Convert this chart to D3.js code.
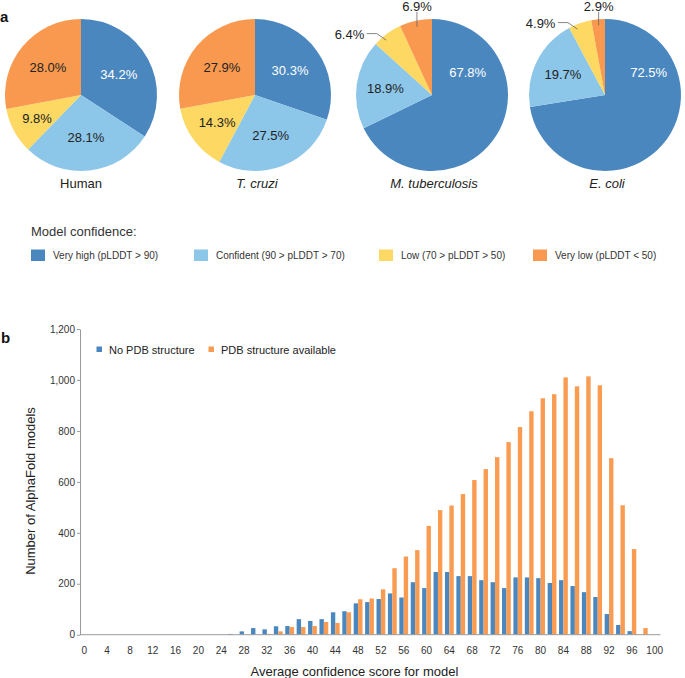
<!DOCTYPE html>
<html>
<head>
<meta charset="utf-8">
<script src="https://cdn.jsdelivr.net/npm/d3@7"></script>
<style>
  html, body { margin: 0; padding: 0; background: #fff; }
  svg { display: block; font-family: "Liberation Sans", Arial, Helvetica, sans-serif; }
</style>
</head>
<body>
<svg id="chart" width="685" height="678"></svg>
<script>
// ---------------- DATA ----------------
const confidenceLevels = ["Very high (pLDDT > 90)", "Confident (90 > pLDDT > 70)", "Low (70 > pLDDT > 50)", "Very low (pLDDT < 50)"];
const organisms = ["Human", "T. cruzi", "M. tuberculosis", "E. coli"];
const organismItalic = [false, true, true, true];
const humanShares = [34.2, 28.1, 9.8, 28.0];
const tcruziShares = [30.3, 27.5, 14.3, 27.9];
const mtbShares = [67.8, 18.9, 6.4, 6.9];
const ecoliShares = [72.5, 19.7, 4.9, 2.9];

const seriesNames = ["No PDB structure", "PDB structure available"];
const scoreBins = [0, 2, 4, 6, 8, 10, 12, 14, 16, 18, 20, 22, 24, 26, 28, 30, 32, 34, 36, 38, 40, 42, 44, 46, 48, 50,
                   52, 54, 56, 58, 60, 62, 64, 66, 68, 70, 72, 74, 76, 78, 80, 82, 84, 86, 88, 90, 92, 94, 96, 98, 100];
const noPdbCounts = [0, 0, 0, 0, 0, 0, 0, 0, 0, 0, 0, 0, 0, 3, 13, 26, 21, 33, 34, 61, 54, 61, 88, 92, 123, 128,
                     140, 162, 146, 206, 183, 246, 246, 230, 230, 214, 206, 183, 225, 225, 222, 203, 214, 191, 167, 148, 81, 38, 14, 0, 0];
const pdbCounts = [0, 0, 0, 0, 0, 0, 0, 0, 0, 0, 0, 0, 0, 0, 0, 0, 3, 13, 30, 30, 34, 50, 46, 88, 139, 142,
                   178, 261, 307, 332, 427, 489, 507, 552, 607, 650, 697, 756, 815, 877, 928, 944, 1010, 975, 1014, 979, 693, 508, 336, 26, 0];
const yTicks = [0, 200, 400, 600, 800, 1000, 1200];
const xTickLabels = [0, 4, 8, 12, 16, 20, 24, 28, 32, 36, 40, 44, 48, 52, 56, 60, 64, 68, 72, 76, 80, 84, 88, 92, 96, 100];

// ---------------- STYLE ----------------
const pieColors = ["#4a87bf", "#8cc6e9", "#fdd862", "#f8994f"];
const barColors = ["#4a87bf", "#f99b50"];
const textColor = "#222";
const axisColor = "#9a9a9a";

const svg = d3.select("#chart");
svg.append("rect").attr("width", 685).attr("height", 678).attr("fill", "#fff");

// ---------------- PANEL a ----------------
svg.append("text").attr("x", 0).attr("y", 22).attr("font-size", 15).attr("font-weight", "bold")
  .attr("fill", "#111").text("a");

const allShares = [humanShares, tcruziShares, mtbShares, ecoliShares];
const pieCenters = [81, 255, 432, 605];
const pieCY = 95, R = 76;
const pie = d3.pie().sort(null).value(d => d);
const arc = d3.arc().innerRadius(0).outerRadius(R);

allShares.forEach((shares, pi) => {
  const g = svg.append("g").attr("transform", `translate(${pieCenters[pi]},${pieCY})`);
  const arcs = pie(shares);
  g.selectAll("path.slice").data(arcs).join("path")
    .attr("class", "slice")
    .attr("d", arc)
    .attr("fill", (d, i) => pieColors[i]);

  arcs.forEach((d, i) => {
    const frac = d.value / 100;
    const mid = (d.startAngle + d.endAngle) / 2;
    const polar = (a, r) => [Math.sin(a) * r, -Math.cos(a) * r];
    const label = d.value.toFixed(1) + "%";
    if (frac < 0.08) {
      // outside label with leader line
      if (i === shares.length - 1) {
        const p = polar(mid, R * 0.92);
        const top = -R - 7;
        g.append("path").attr("d", `M${p[0]},${p[1]}L${p[0]},${top}`)
          .attr("stroke", "#666").attr("stroke-width", 0.8).attr("fill", "none");
        g.append("text").attr("x", p[0]).attr("y", top - 6).attr("text-anchor", "middle")
          .attr("dominant-baseline", "central").attr("font-size", 13).attr("fill", textColor).text(label);
      } else {
        const p = polar(mid - 0.06, R * 0.94);
        const elbow = [p[0] - 9.5, p[1] - 6.5];
        const end = [elbow[0] - 10, elbow[1]];
        g.append("path").attr("d", `M${p[0]},${p[1]}L${elbow[0]},${elbow[1]}L${end[0]},${end[1]}`)
          .attr("stroke", "#666").attr("stroke-width", 0.8).attr("fill", "none");
        g.append("text").attr("x", end[0] - 2.5).attr("y", end[1] + 1).attr("text-anchor", "end")
          .attr("dominant-baseline", "central").attr("font-size", 13).attr("fill", textColor).text(label);
      }
    } else {
      let pos;
      if (frac > 0.5) {
        pos = polar(58 * Math.PI / 180, 42);
        pos[0] += (frac > 0.7 ? 8 : 0);
      } else if (frac < 0.2) {
        pos = polar(mid, frac < 0.12 ? 50 : 47);
      } else {
        pos = polar(mid, 43);
      }
      g.append("text").attr("x", pos[0]).attr("y", pos[1]).attr("text-anchor", "middle")
        .attr("dominant-baseline", "central").attr("font-size", 13)
        .attr("fill", i === 0 ? "#fff" : textColor).text(label);
    }
  });

  svg.append("text").attr("x", pieCenters[pi] + (organismItalic[pi] ? 2 : 0)).attr("y", 183)
    .attr("text-anchor", "middle").attr("dominant-baseline", "central")
    .attr("font-size", 13).attr("font-style", organismItalic[pi] ? "italic" : "normal")
    .attr("fill", textColor).text(organisms[pi]);
});

// legend
svg.append("text").attr("x", 31).attr("y", 231).attr("dominant-baseline", "central")
  .attr("font-size", 13).attr("fill", "#333").text("Model confidence:");
const legendX = [31, 194, 379, 533];
confidenceLevels.forEach((lab, i) => {
  svg.append("rect").attr("x", legendX[i]).attr("y", 249.5).attr("width", 14).attr("height", 11.5)
    .attr("fill", pieColors[i]);
  svg.append("text").attr("x", legendX[i] + 22).attr("y", 255.5).attr("dominant-baseline", "central")
    .attr("font-size", 10).attr("fill", "#333").text(lab);
});

// ---------------- PANEL b ----------------
svg.append("text").attr("x", 1).attr("y", 343).attr("font-size", 15).attr("font-weight", "bold")
  .attr("fill", "#111").text("b");

const xLeft = 78.6, xRight = 660.4, axisX = 80;
const y0 = 634.7, yTop = 329;
const x = d3.scaleBand().domain(scoreBins).range([xLeft, xRight]).paddingInner(0).paddingOuter(0);
const xSub = d3.scaleBand().domain([0, 1]).range([0, x.bandwidth()]).paddingInner(0).paddingOuter(0.3);
const y = d3.scaleLinear().domain([0, 1200]).range([y0, yTop]);

// bars
const bars = svg.append("g");
[noPdbCounts, pdbCounts].forEach((counts, s) => {
  bars.selectAll(null).data(scoreBins.map((b, i) => ({ b, v: counts[i] })).filter(d => d.v > 0))
    .join("rect")
    .attr("x", d => x(d.b) + xSub(s))
    .attr("width", xSub.bandwidth())
    .attr("y", d => y(d.v))
    .attr("height", d => y(0) - y(d.v))
    .attr("fill", barColors[s]);
});

// y axis
const yAxis = svg.append("g").attr("transform", `translate(${axisX},0)`)
  .call(d3.axisLeft(y).tickValues(yTicks).tickSize(3).tickSizeOuter(0).tickPadding(2).tickFormat(d3.format(",")));
yAxis.select(".domain").attr("stroke", axisColor);
yAxis.selectAll(".tick line").attr("stroke", axisColor);
yAxis.selectAll(".tick text").attr("font-size", 10).attr("fill", "#333")
  .attr("font-family", "'Liberation Sans', Arial, sans-serif");

// x axis
const xAxis = svg.append("g").attr("transform", `translate(0,${y0})`)
  .call(d3.axisBottom(x).tickValues(xTickLabels).tickSize(0).tickSizeOuter(0).tickPadding(12));
xAxis.select(".domain").attr("stroke", axisColor).attr("d", `M${axisX},0H${xRight}`);
xAxis.selectAll(".tick text").attr("font-size", 10).attr("fill", "#333")
  .attr("font-family", "'Liberation Sans', Arial, sans-serif");

// axis titles
svg.append("text").attr("transform", "translate(30,491) rotate(-90)").attr("text-anchor", "middle")
  .attr("dominant-baseline", "central").attr("font-size", 13).attr("fill", textColor)
  .text("Number of AlphaFold models");
svg.append("text").attr("x", 354.5).attr("y", 671).attr("text-anchor", "middle")
  .attr("dominant-baseline", "central").attr("font-size", 13).attr("fill", textColor)
  .text("Average confidence score for model");

// bar legend
const barLegendX = [96.5, 208.5];
seriesNames.forEach((n, i) => {
  svg.append("rect").attr("x", barLegendX[i]).attr("y", 346.5).attr("width", 5.5).attr("height", 5.5)
    .attr("fill", barColors[i]);
  svg.append("text").attr("x", barLegendX[i] + 12.5).attr("y", 349.5).attr("dominant-baseline", "central")
    .attr("font-size", 11).attr("fill", textColor).text(n);
});
</script>
</body>
</html>
